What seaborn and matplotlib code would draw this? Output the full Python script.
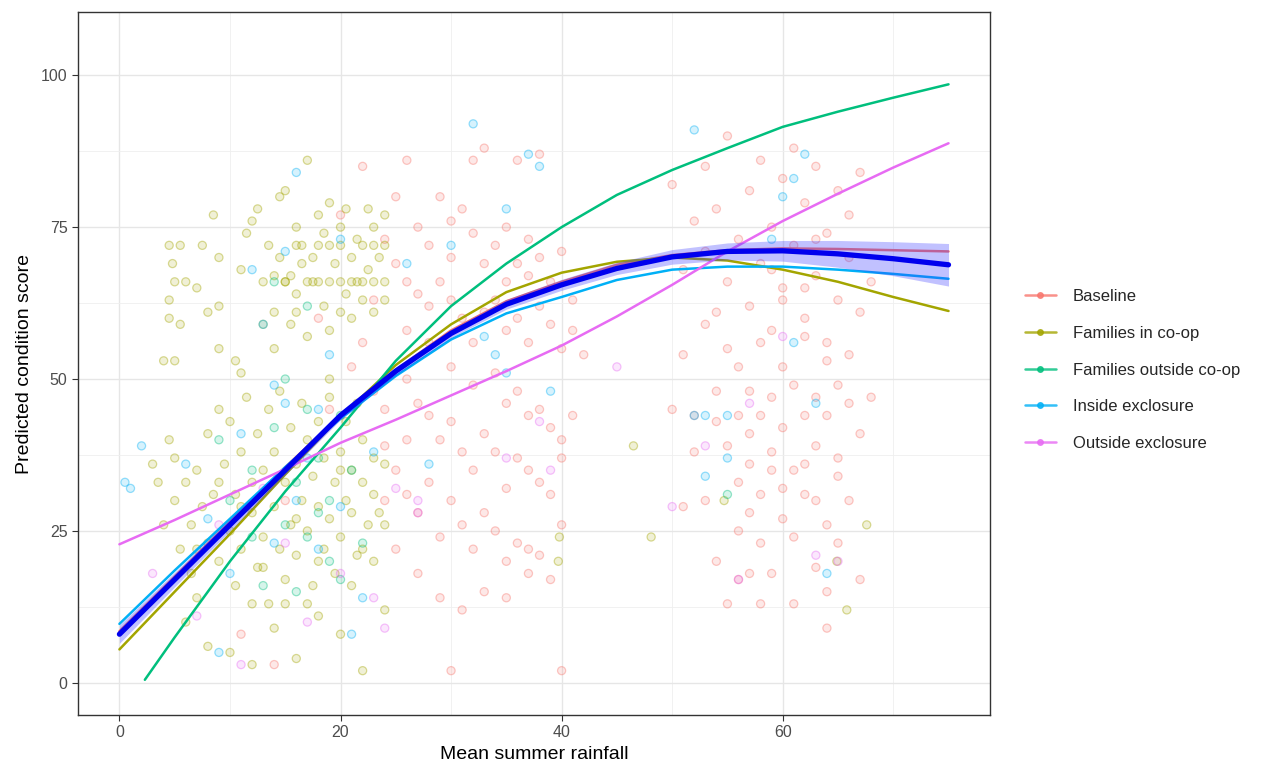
import pandas as pd
import matplotlib.pyplot as plt
import seaborn as sns
from matplotlib.lines import Line2D

# Fitted curves
groups = ["Baseline", "Families in co-op", "Families outside co-op",
          "Inside exclosure", "Outside exclosure"]
colors = ["#F8766D", "#A3A500", "#00BF7D", "#00B0F6", "#E76BF3"]

rain_knots = [0, 5, 10, 15, 20, 25, 30, 35, 40, 45, 50, 55, 60, 65, 70, 75]
rain_knots_out_coop = [2.3, 5, 10, 15, 20, 25, 30, 35, 40, 45, 50, 55, 60, 65, 70, 75]

fit_baseline = [8.5, 17.5, 26.5, 35.5, 44, 51.5, 58, 62.8, 66, 68.8, 70.4, 71.2, 71.5, 71.4, 71.2, 71]
fit_in_coop = [5.5, 15, 24.5, 34.3, 43.8, 52.3, 59, 64.3, 67.5, 69.3, 70, 69.5, 68, 66, 63.5, 61.2]
fit_out_coop = [0.5, 7.5, 20, 31.5, 42, 53, 62, 69, 75, 80.3, 84.4, 88, 91.5, 94, 96.3, 98.5]
fit_inside = [9.7, 18.5, 27, 35.5, 43.5, 50.5, 56.5, 60.8, 63.5, 66.3, 68, 68.5, 68.5, 68, 67.3, 66.5]
fit_outside = [22.8, 26.8, 31, 35.2, 39.5, 43.3, 47.3, 51.3, 55.5, 60.3, 65.5, 71, 76, 80.5, 84.8, 88.8]

fit_overall = [8, 17, 26, 35, 44, 51.3, 57.5, 62.3, 65.5, 68.2, 70.1, 71, 71.1, 70.6, 69.8, 68.8]
fit_overall_se = [1.5, 1.2, 1.0, 0.8, 0.7, 0.7, 0.7, 0.8, 0.9, 1.0, 1.2, 1.4, 1.7, 2.2, 2.8, 3.5]

pts_baseline = [
    (22, 85), (26, 86), (29, 80), (32, 86), (33, 88), (36, 86), (38, 87), (31, 78), (27, 75), (28, 72),
    (30, 70), (32, 74), (34, 72), (35, 75), (36, 69), (37, 73), (38, 70), (39, 66), (40, 71), (41, 63),
    (24, 73), (25, 69), (26, 66), (27, 64), (28, 62), (29, 66), (30, 63), (31, 60), (32, 56), (33, 61),
    (34, 63), (35, 58), (36, 60), (37, 56), (38, 62), (39, 59), (40, 55), (41, 58), (42, 54), (26, 58),
    (28, 56), (30, 52), (32, 49), (34, 51), (35, 46), (36, 48), (37, 44), (38, 45), (39, 42), (40, 40),
    (41, 44), (26, 50), (27, 46), (28, 44), (29, 40), (30, 43), (31, 38), (32, 35), (33, 41), (34, 38),
    (35, 32), (36, 37), (37, 35), (38, 33), (39, 31), (40, 37), (24, 39), (25, 35), (26, 31), (27, 28),
    (28, 33), (29, 24), (30, 30), (31, 26), (32, 22), (33, 28), (34, 25), (35, 20), (36, 23), (37, 18),
    (38, 21), (39, 17), (40, 26), (25, 22), (27, 18), (29, 14), (31, 12), (33, 15), (35, 14), (37, 22),
    (30, 2), (40, 2), (24, 45), (26, 40), (22, 56), (23, 63), (25, 80), (30, 76), (20, 77), (18, 60),
    (19, 45), (15, 30), (14, 3), (11, 8), (35, 66), (37, 67), (33, 69), (23, 48), (21, 52), (24, 30),
    (50, 82), (51, 68), (52, 76), (53, 71), (53, 85), (54, 78), (55, 66), (55, 90), (56, 73), (57, 81),
    (57, 62), (58, 86), (58, 69), (59, 75), (59, 58), (60, 83), (60, 65), (61, 72), (61, 88), (62, 79),
    (62, 60), (63, 85), (63, 67), (64, 74), (64, 56), (65, 81), (65, 63), (66, 70), (66, 77), (67, 84),
    (67, 61), (68, 66), (50, 45), (51, 54), (52, 44), (53, 59), (54, 48), (55, 55), (56, 44), (56, 52),
    (57, 48), (57, 41), (58, 56), (58, 44), (59, 47), (59, 38), (60, 52), (60, 42), (61, 49), (61, 35),
    (62, 57), (62, 44), (63, 47), (63, 39), (64, 53), (64, 44), (65, 49), (65, 37), (66, 46), (66, 54),
    (67, 41), (68, 47), (52, 38), (53, 30), (54, 43), (55, 39), (56, 33), (56, 25), (57, 36), (57, 28),
    (58, 23), (58, 31), (59, 35), (59, 18), (60, 27), (60, 32), (61, 24), (62, 31), (62, 36), (63, 30),
    (63, 19), (64, 26), (64, 15), (65, 34), (65, 23), (66, 30), (67, 17), (64, 9), (57, 18), (56, 17),
    (61, 13), (58, 13), (55, 13), (54, 20), (51, 29), (60, 63), (62, 65), (54, 61), (59, 68), (63, 73),
]
pts_in_coop = [
    (4.5, 72), (5.5, 72), (7.5, 72), (4.8, 69), (5, 66), (6, 66), (4.5, 63), (4.5, 60), (5.5, 59), (7, 65),
    (8, 61), (9, 62), (4, 53), (5, 53), (8.5, 77), (9, 70), (10.5, 53), (11, 68), (11.5, 74), (12, 76),
    (12.5, 78), (13, 66), (13.5, 72), (14, 67), (14, 61), (14.5, 70), (15, 66), (15, 81), (15.5, 67), (16, 72),
    (16, 64), (16.5, 69), (17, 66), (17, 86), (17.5, 70), (18, 66), (18, 72), (18.5, 62), (19, 66), (19, 79),
    (19.5, 69), (20, 66), (20, 72), (20.5, 64), (21, 70), (21, 66), (21.5, 73), (22, 66), (22, 72), (22.5, 68),
    (23, 66), (23, 61), (23.5, 70), (24, 66), (24, 72), (14, 55), (15.5, 59), (17, 57), (19, 58), (21, 60),
    (22.5, 78), (23, 75), (20, 75), (18, 77), (16, 75), (14.5, 80), (13, 59), (22, 63), (16, 61), (18.5, 74),
    (20.5, 78), (24, 77), (24, 63), (20, 61), (15, 66), (17.5, 66), (21.5, 66), (16.5, 72), (19, 72), (23, 72),
    (3, 36), (3.5, 33), (4, 26), (4.5, 40), (5, 37), (5, 30), (5.5, 22), (6, 33), (6.5, 18), (6.5, 26),
    (7, 35), (7, 14), (7.5, 29), (8, 23), (8, 41), (8.5, 31), (9, 20), (9, 45), (9.5, 36), (10, 25),
    (10, 43), (10.5, 31), (10.5, 16), (11, 38), (11, 22), (11.5, 47), (12, 28), (12, 33), (12.5, 19), (12.5, 41),
    (13, 24), (13, 35), (13.5, 45), (13.5, 13), (14, 29), (14, 38), (14.5, 22), (14.5, 48), (15, 33), (15, 17),
    (15.5, 26), (15.5, 42), (16, 36), (16, 21), (16.5, 30), (16.5, 46), (17, 25), (17, 40), (17.5, 34), (17.5, 16),
    (18, 29), (18, 43), (18.5, 22), (18.5, 37), (19, 27), (19, 47), (19.5, 33), (19.5, 18), (20, 38), (20, 24),
    (20.5, 43), (20.5, 30), (21, 28), (21, 35), (21.5, 46), (21.5, 21), (22, 33), (22, 40), (22.5, 26), (23, 31),
    (23, 37), (23.5, 28), (24, 26), (24, 36), (10, 5), (12, 3), (14, 9), (16, 4), (18, 11), (20, 8),
    (22, 2), (8, 6), (6, 10), (13, 19), (17, 13), (21, 16), (19, 50), (11, 51), (9, 55), (24, 12),
    (23, 20), (12, 13), (15, 13), (18, 20), (22, 22), (11, 29), (9, 33), (7, 22), (16, 27), (20, 35),
    (46.5, 39), (48.1, 24), (39.8, 24), (39.7, 20), (54.7, 30), (67.6, 26), (64.9, 20), (65.8, 12),
]
pts_out_coop = [
    (9, 40), (12, 35), (14, 42), (15, 26), (16, 33), (17, 24), (18, 37), (19, 20), (20, 44), (13, 16),
    (17, 45), (19, 30), (21, 35), (15, 50), (22, 23), (12, 24), (16, 15), (18, 28), (20, 17), (10, 30),
    (55, 31), (14, 66), (17, 62),
]
pts_inside = [
    (1, 32), (2, 39), (0.5, 33), (6, 36), (8, 27), (9, 5), (10, 18), (11, 41), (12, 68), (13, 59),
    (14, 49), (15, 46), (16, 84), (17, 37), (18, 22), (19, 54), (20, 29), (21, 8), (22, 14), (16, 30),
    (15, 71), (14, 23), (18, 45), (20, 73), (23, 38), (26, 69), (28, 36), (30, 72), (32, 92), (35, 78),
    (37, 87), (38, 85), (33, 57), (35, 51), (34, 54), (39, 48), (52, 91), (53, 34), (55, 37), (59, 73),
    (60, 80), (61, 83), (62, 87), (63, 46), (64, 18), (61, 56), (53, 44), (55, 44), (52, 44),
]
pts_outside = [
    (3, 18), (7, 11), (9, 26), (11, 3), (13, 32), (15, 23), (17, 10), (20, 18), (23, 14), (24, 9),
    (27, 30), (35, 37), (38, 43), (39, 35), (45, 52), (50, 29), (53, 39), (56, 17), (57, 46), (60, 57),
    (63, 21), (65, 20), (27, 28), (25, 32),
]

sns.set_theme(style="white")
plt.rcParams["font.family"] = ["Liberation Sans", "DejaVu Sans"]

rows = []
for g, pts in zip(groups, [pts_baseline, pts_in_coop, pts_out_coop, pts_inside, pts_outside]):
    for x, y in pts:
        rows.append({"rain": x, "score": y, "group": g})
points = pd.DataFrame(rows)

curves = []
for g, xs, ys in zip(groups,
                     [rain_knots, rain_knots, rain_knots_out_coop, rain_knots, rain_knots],
                     [fit_baseline, fit_in_coop, fit_out_coop, fit_inside, fit_outside]):
    for x, y in zip(xs, ys):
        curves.append({"rain": x, "score": y, "group": g})
curves = pd.DataFrame(curves)

overall = pd.DataFrame({"rain": rain_knots, "score": fit_overall, "se": fit_overall_se})

palette = dict(zip(groups, colors))

fig = plt.figure(figsize=(12.7, 7.71), dpi=100)
ax = fig.add_axes([0.0614, 0.0726, 0.7181, 0.9118])

sns.scatterplot(data=points, x="rain", y="score", hue="group", palette=palette,
                hue_order=groups, s=34, linewidth=0.9, legend=False, ax=ax, zorder=2)
coll = ax.collections[0]
fc = coll.get_facecolors().copy()
ec = fc.copy()
fc[:, 3] = 0.16
ec[:, 3] = 0.4
coll.set_facecolors(fc)
coll.set_edgecolors(ec)

sns.lineplot(data=curves, x="rain", y="score", hue="group", palette=palette,
             hue_order=groups, linewidth=1.8, legend=False, ax=ax, zorder=3)

ax.fill_between(overall["rain"], overall["score"] - overall["se"],
                overall["score"] + overall["se"], color="#3333FF", alpha=0.3,
                linewidth=0, zorder=4)
sns.lineplot(data=overall, x="rain", y="score", color="#0000EE", linewidth=3.8,
             legend=False, ax=ax, zorder=5)

ax.set_xlim(-3.75, 78.75)
ax.set_ylim(-5.3, 110.4)
ax.set_xticks([0, 20, 40, 60])
ax.set_yticks([0, 25, 50, 75, 100])
ax.set_xticks([10, 30, 50, 70], minor=True)
ax.set_yticks([12.5, 37.5, 62.5, 87.5], minor=True)
ax.grid(True, which="major", color="#E6E6E6", linewidth=1.0)
ax.grid(True, which="minor", color="#EFEFEF", linewidth=0.6)
ax.set_axisbelow(True)
ax.tick_params(axis="both", which="major", direction="out", length=4, width=0.8,
               color="#333333", labelsize=11.5, labelcolor="#4D4D4D", bottom=True, left=True)
ax.tick_params(which="minor", length=0)
for sp in ax.spines.values():
    sp.set_color("#333333")
    sp.set_linewidth(1.0)

ax.set_xlabel("Mean summer rainfall", fontsize=14, color="black", labelpad=4)
ax.set_ylabel("Predicted condition score", fontsize=14, color="black", labelpad=6)

handles = [Line2D([0], [0], color=c, lw=1.8, marker="o", markersize=4,
                  markerfacecolor=c, markeredgecolor=c, alpha=0.8) for c in colors]
fig.legend(handles, groups, loc="center left", bbox_to_anchor=(0.795, 0.52),
           frameon=False, fontsize=12, handlelength=1.9, labelspacing=1.3,
           handletextpad=1.0)

fig.savefig("out.png", dpi=100)
